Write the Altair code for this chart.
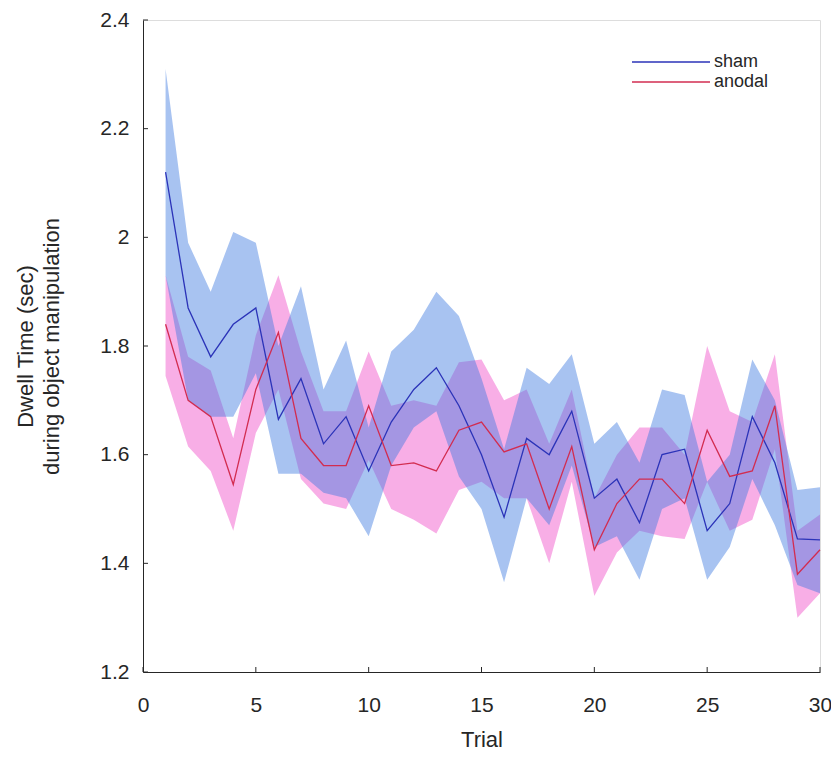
import altair as alt
import pandas as pd

trials = list(range(1, 31))

sham_mean = [2.12, 1.87, 1.78, 1.84, 1.87, 1.665, 1.74, 1.62, 1.67, 1.57,
             1.66, 1.72, 1.76, 1.69, 1.60, 1.485, 1.63, 1.60, 1.68, 1.52,
             1.555, 1.475, 1.60, 1.61, 1.46, 1.51, 1.67, 1.585, 1.445, 1.443]
sham_upper = [2.31, 1.99, 1.90, 2.01, 1.99, 1.80, 1.91, 1.72, 1.81, 1.65,
              1.79, 1.83, 1.90, 1.855, 1.74, 1.61, 1.76, 1.73, 1.785, 1.62,
              1.66, 1.585, 1.72, 1.71, 1.55, 1.60, 1.775, 1.70, 1.535, 1.54]
sham_lower = [1.93, 1.70, 1.67, 1.67, 1.75, 1.565, 1.565, 1.53, 1.52, 1.45,
              1.58, 1.65, 1.68, 1.56, 1.50, 1.365, 1.52, 1.47, 1.58, 1.43,
              1.45, 1.37, 1.50, 1.52, 1.37, 1.43, 1.555, 1.47, 1.36, 1.345]

anodal_mean = [1.84, 1.70, 1.67, 1.545, 1.72, 1.825, 1.63, 1.58, 1.58, 1.69,
               1.58, 1.585, 1.57, 1.645, 1.66, 1.605, 1.62, 1.50, 1.615, 1.425,
               1.51, 1.555, 1.555, 1.51, 1.645, 1.56, 1.57, 1.69, 1.38, 1.425]
anodal_upper = [1.93, 1.78, 1.755, 1.63, 1.82, 1.93, 1.79, 1.68, 1.68, 1.79,
                1.69, 1.70, 1.69, 1.77, 1.775, 1.70, 1.72, 1.62, 1.72, 1.52,
                1.60, 1.65, 1.65, 1.60, 1.80, 1.68, 1.66, 1.785, 1.46, 1.49]
anodal_lower = [1.745, 1.615, 1.57, 1.46, 1.64, 1.72, 1.555, 1.51, 1.50, 1.59,
                1.50, 1.48, 1.455, 1.535, 1.55, 1.52, 1.52, 1.40, 1.55, 1.34,
                1.42, 1.46, 1.45, 1.445, 1.55, 1.46, 1.48, 1.61, 1.30, 1.345]

groups = ["sham", "anodal"]
line_colors = ["#2b33b8", "#d22c50"]
x_ticks = [0, 5, 10, 15, 20, 25, 30]
y_ticks = [1.2, 1.4, 1.6, 1.8, 2.0, 2.2, 2.4]

rows = []
for i, t in enumerate(trials):
    rows.append(dict(trial=t, group="sham", mean=sham_mean[i], lo=sham_lower[i], hi=sham_upper[i]))
    rows.append(dict(trial=t, group="anodal", mean=anodal_mean[i], lo=anodal_lower[i], hi=anodal_upper[i]))
df = pd.DataFrame(rows)

W, H = 677, 652
FONT = "Liberation Sans"
TXT = "#262626"

xs = alt.Scale(domain=[0, 30], nice=False)
ys = alt.Scale(domain=[1.2, 2.4], nice=False)

x_axis = alt.Axis(values=x_ticks, format="d", title="Trial", ticks=False, grid=False,
                  labelFontSize=21, titleFontSize=22, labelPadding=22, titlePadding=14,
                  labelColor=TXT, titleColor=TXT, domainColor=TXT, labelFont=FONT,
                  titleFont=FONT, titleFontWeight="normal", labelFlush=False)
y_axis = alt.Axis(values=y_ticks, format="~g", title=["Dwell Time (sec)", "during object manipulation"],
                  ticks=False, grid=False, labelFontSize=21, titleFontSize=22, labelPadding=14,
                  titlePadding=36, titleLineHeight=26, labelColor=TXT, titleColor=TXT,
                  domainColor=TXT, labelFont=FONT, titleFont=FONT, titleFontWeight="normal",
                  labelFlush=False)

base = alt.Chart(df)

area_an = base.transform_filter(alt.datum.group == "anodal").mark_area(
    color="#f04cc8", opacity=0.45, strokeWidth=0
).encode(x=alt.X("trial:Q", scale=xs, axis=x_axis),
         y=alt.Y("lo:Q", scale=ys, axis=y_axis), y2="hi:Q")

area_sh = base.transform_filter(alt.datum.group == "sham").mark_area(
    color="#3f7ae0", opacity=0.45, strokeWidth=0
).encode(x=alt.X("trial:Q", scale=xs), y=alt.Y("lo:Q", scale=ys), y2="hi:Q")

color_scale = alt.Scale(domain=groups, range=line_colors)

lines = base.mark_line(strokeWidth=1.3).encode(
    x=alt.X("trial:Q", scale=xs),
    y=alt.Y("mean:Q", scale=ys),
    color=alt.Color("group:N", scale=color_scale, legend=None),
)

ytick_df = pd.DataFrame({"v": y_ticks})
xtick_df = pd.DataFrame({"v": x_ticks})
yticks = alt.Chart(ytick_df).mark_rule(color=TXT, strokeWidth=1).encode(
    y=alt.Y("v:Q", scale=ys), x=alt.value(0), x2=alt.value(5))
xticks = alt.Chart(xtick_df).mark_rule(color=TXT, strokeWidth=1).encode(
    x=alt.X("v:Q", scale=xs), y=alt.value(H), y2=alt.value(H - 5))

# manual legend (inside plot, top right)
legend_layers = []
for k, g in enumerate(groups):
    ly = 42 + 20 * k
    gdf = pd.DataFrame({"group": [g]})
    legend_layers.append(alt.Chart(gdf).mark_rule(strokeWidth=1.5).encode(
        x=alt.value(489), x2=alt.value(567), y=alt.value(ly),
        color=alt.Color("group:N", scale=color_scale, legend=None)))
    legend_layers.append(alt.Chart(gdf).mark_text(
        align="left", baseline="middle", fontSize=18, font=FONT, color=TXT
    ).encode(x=alt.value(571), y=alt.value(ly), text="group:N"))

chart = alt.layer(area_an, area_sh, lines, yticks, xticks, *legend_layers).properties(
    width=W, height=H,
    autosize=alt.AutoSizeParams(type="none"),
    padding={"left": 135, "top": 12, "right": 11, "bottom": 79},
).configure_view(stroke=None).configure(background="white")

chart.save("out.html", embed_options={"renderer": "svg", "actions": False})
